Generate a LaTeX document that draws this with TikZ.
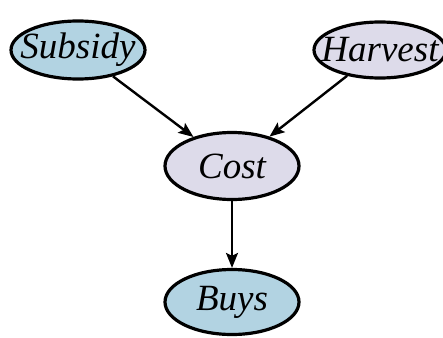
\documentclass[tikz,border=0pt]{standalone}
\usepackage{fontspec}
\setmainfont{Liberation Serif}
\usepackage{tikz}
\usetikzlibrary{arrows.meta,shapes.geometric}

\definecolor{nodeblue}{RGB}{178,211,226}
\definecolor{nodelilac}{RGB}{221,219,234}

\tikzset{
  var/.style={ellipse,draw=black,line width=3.2pt,inner xsep=-14pt,inner ysep=-5pt,
    minimum width=134pt,minimum height=58pt,
    font=\fontsize{37}{42}\selectfont\itshape},
  link/.style={line width=2.4pt,-{Stealth[length=15pt,width=12pt,inset=3pt]}}
}

\begin{document}
\begin{tikzpicture}[x=1pt,y=1pt]
  \useasboundingbox (0,0) rectangle (443,-337);
  \node[var,fill=nodeblue] (subsidy) at (78,-50) {Subsidy};
  \node[var,fill=nodelilac,minimum width=132pt,minimum height=56pt] (harvest) at (380,-50) {Harvest};
  \node[var,fill=nodelilac,minimum height=67pt] (cost) at (232,-166) {Cost};
  \node[var,fill=nodeblue,minimum height=65pt] (buys) at (232,-302) {Buys};
  \draw[link] (subsidy) -- (cost);
  \draw[link] (harvest) -- (cost);
  \draw[link] (cost) -- (buys);
\end{tikzpicture}
\end{document}
